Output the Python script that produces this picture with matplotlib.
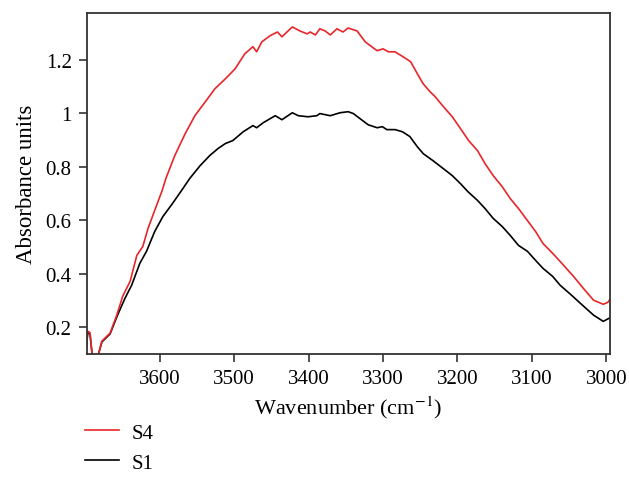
import numpy as np
import matplotlib
matplotlib.use("Agg")
import matplotlib.pyplot as plt

# FTIR spectra (wavenumber in cm-1, absorbance)
wn_s4 = [3700, 3697, 3694, 3691, 3683, 3678, 3667, 3658, 3650, 3640, 3631, 3623,
         3616, 3607, 3597, 3592, 3580, 3566, 3553, 3539, 3526, 3512, 3499, 3486,
         3475, 3470, 3463, 3452, 3442, 3436, 3422, 3412, 3402, 3398, 3391, 3385,
         3378, 3371, 3362, 3354, 3347, 3335, 3324, 3308, 3300, 3293, 3284, 3273,
         3263, 3254, 3246, 3237, 3230, 3219, 3207, 3196, 3185, 3173, 3163, 3152,
         3140, 3129, 3118, 3106, 3095, 3085, 3072, 3062, 3044, 3031, 3017, 3004,
         2998, 2994]
abs_s4 = [0.09, 0.185, 0.18, 0.095, 0.095, 0.148, 0.178, 0.245, 0.316, 0.372, 0.469, 0.502,
          0.569, 0.637, 0.711, 0.756, 0.842, 0.924, 0.991, 1.043, 1.092, 1.129, 1.166, 1.222,
          1.249, 1.230, 1.267, 1.290, 1.304, 1.286, 1.323, 1.308, 1.297, 1.304, 1.293, 1.316,
          1.308, 1.293, 1.316, 1.304, 1.319, 1.308, 1.267, 1.234, 1.241, 1.230, 1.230, 1.211,
          1.193, 1.148, 1.110, 1.081, 1.062, 1.025, 0.987, 0.943, 0.898, 0.860, 0.812, 0.767,
          0.726, 0.681, 0.644, 0.599, 0.558, 0.513, 0.476, 0.446, 0.390, 0.346, 0.301, 0.286,
          0.293, 0.308]

wn_s1 = [3700, 3697, 3694, 3691, 3683, 3678, 3667, 3657, 3647, 3638, 3627, 3618,
         3607, 3596, 3583, 3569, 3560, 3546, 3533, 3522, 3512, 3502, 3488, 3475,
         3470, 3461, 3445, 3436, 3422, 3414, 3401, 3389, 3385, 3371, 3358, 3347,
         3340, 3331, 3320, 3308, 3301, 3295, 3284, 3274, 3264, 3254, 3246, 3233,
         3219, 3207, 3196, 3186, 3173, 3163, 3152, 3140, 3129, 3118, 3106, 3095,
         3085, 3072, 3062, 3048, 3035, 3017, 3004, 2994]
abs_s1 = [0.09, 0.18, 0.175, 0.095, 0.095, 0.145, 0.175, 0.245, 0.308, 0.357, 0.439, 0.484,
          0.558, 0.614, 0.663, 0.719, 0.756, 0.804, 0.842, 0.868, 0.887, 0.898, 0.931, 0.954,
          0.946, 0.965, 0.991, 0.976, 1.002, 0.991, 0.987, 0.991, 0.999, 0.991, 1.002, 1.006,
          0.999, 0.980, 0.957, 0.946, 0.950, 0.939, 0.939, 0.931, 0.913, 0.875, 0.849, 0.823,
          0.793, 0.767, 0.737, 0.707, 0.674, 0.644, 0.607, 0.577, 0.543, 0.506, 0.484, 0.450,
          0.420, 0.390, 0.357, 0.323, 0.290, 0.245, 0.222, 0.237]

x_ticks = [3600, 3500, 3400, 3300, 3200, 3100, 3000]
y_ticks = [0.2, 0.4, 0.6, 0.8, 1.0, 1.2]
y_labels = ["0.2", "0.4", "0.6", "0.8", "1", "1.2"]

plt.rcParams["font.family"] = ["Liberation Serif", "DejaVu Serif"]
plt.rcParams["mathtext.fontset"] = "stix"

W, H = 629, 489
fig = plt.figure(figsize=(W / 100, H / 100), dpi=100)
ax = fig.add_axes([87 / W, 1 - 355 / H, (610 - 87) / W, (355 - 14) / H])

l1, = ax.plot(wn_s1, abs_s1, color="black", lw=1.2)
l4, = ax.plot(wn_s4, abs_s4, color="#e8262a", lw=1.2)

ax.set_xlim(3698, 2995)
ax.set_ylim(0.1, 1.375)
ax.set_xticks(x_ticks)
ax.set_yticks(y_ticks)
ax.set_yticklabels(y_labels)
ax.tick_params(axis="both", direction="out", length=6, width=1.2, labelsize=15,
               color="#333333", pad=5)
for s in ax.spines.values():
    s.set_color("#333333")
    s.set_linewidth(1.3)

ax.set_xlabel("Wavenumber (cm$^{-1}$)", fontsize=16, labelpad=4)
ax.set_ylabel("Absorbance units", fontsize=16.5, labelpad=6)

fig.legend([l4, l1], ["S4", "S1"], loc="upper left",
           bbox_to_anchor=(85 / W, 1 - 424 / H), frameon=False, fontsize=15,
           handlelength=1.63, handletextpad=0.62, labelspacing=0.5, borderpad=0,
           borderaxespad=0)

fig.savefig("out.png", dpi=100)
